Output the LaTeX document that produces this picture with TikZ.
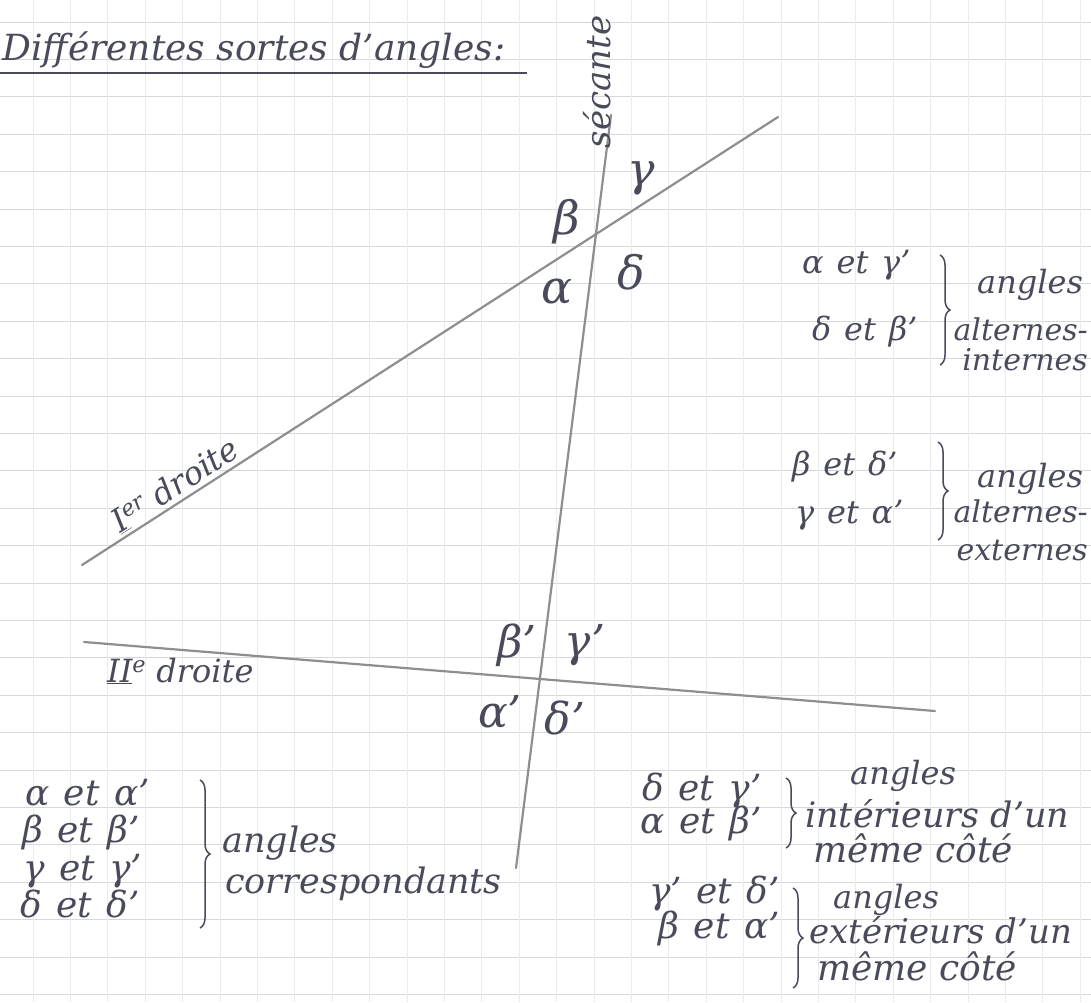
\documentclass[tikz,border=0pt]{standalone}
\usepackage{fontspec}
\setmainfont{DejaVu Serif}
\usetikzlibrary{decorations.pathreplacing}
\definecolor{ink}{HTML}{4A4B5A}
\definecolor{pencil}{HTML}{8E8E8E}
\definecolor{rule}{HTML}{D4D8DD}
\definecolor{ruledim}{HTML}{E9EBED}
\newcommand{\pairet}[2]{#1\hspace{.4em}et\hspace{.4em}#2}
\tikzset{
  hand/.style={font={\fontsize{#1}{#1}\selectfont\itshape},text=ink,inner sep=0pt},
  hand/.default=32,
  greek/.style={hand=46},
  pencilline/.style={pencil,line width=2.2pt,line cap=round},
  bracket/.style={ink,line width=1.5pt,decorate,decoration={brace,amplitude=10pt}},
  gridh/.style={rule,line width=1pt},
  gridv/.style={ruledim,line width=0.8pt}
}

\begin{document}
\begin{tikzpicture}[x=1pt,y=-1pt]
\fill[white] (0,0) rectangle (1091,1002);
\useasboundingbox (0,0) rectangle (1091,1002);
% squared paper
\foreach \k in {0,...,26} \draw[gridh] (0,22+37.4*\k) -- (1091,22+37.4*\k);
\foreach \k in {0,...,28} \draw[gridv] (33+37.4*\k,0) -- (33+37.4*\k,1002);

% title
\node[hand=36,anchor=base west] (title) at (2,60) {Différentes sortes d'angles:};
\coordinate (ul1) at (0,73);
\coordinate (ul2) at (527,73);
\draw[ink,line width=1.6pt] (ul1) -- (ul2);

% the two lines and the secant
\coordinate (s1) at (611,115);
\coordinate (s2) at (516,868);
\coordinate (da1) at (82,565);
\coordinate (da2) at (778,117);
\coordinate (db1) at (84,642);
\coordinate (db2) at (935,711);
\draw[pencilline] (s1) -- (s2);
\draw[pencilline] (da1) -- (da2);
\draw[pencilline] (db1) -- (db2);
\node[hand=34,rotate=90] (sec) at (597,82) {sécante};
\node[hand=32,anchor=base,rotate=32.8] (dra) at (181,494) {\underline{I}\textsuperscript{er} droite};
\node[hand=32,anchor=base west] (drb) at (107,682) {\underline{II}\textsuperscript{e} droite};

% angles at the crossings
\node[greek] (beta) at (567,222) {β};
\node[greek] (gamma) at (641,178) {γ};
\node[greek] (alpha) at (557,292) {α};
\node[greek] (delta) at (631,272) {δ};
\node[hand=44] (betap) at (517,645) {β'};
\node[hand=44] (gammap) at (585,645) {γ'};
\node[hand=44] (alphap) at (500,712) {α'};
\node[hand=44] (deltap) at (565,718) {δ'};

% alternes-internes
\node[hand,anchor=base west] (ai1) at (802,273) {\pairet{α}{γ'}};
\node[hand,anchor=base west] (ai2) at (812,340) {\pairet{δ}{β'}};
\coordinate (bi1) at (940,255);
\coordinate (bi2) at (940,365);
\draw[bracket] (bi1) -- (bi2);
\node[hand,anchor=base west] (aiw1) at (977,293) {angles};
\node[hand=30,anchor=base east] (aiw2) at (1088,340) {alternes-};
\node[hand=30,anchor=base east] (aiw3) at (1088,370) {internes};

% alternes-externes
\node[hand,anchor=base west] (ae1) at (792,475) {\pairet{β}{δ'}};
\node[hand,anchor=base west] (ae2) at (795,523) {\pairet{γ}{α'}};
\coordinate (be1) at (938,442);
\coordinate (be2) at (938,540);
\draw[bracket] (be1) -- (be2);
\node[hand,anchor=base west] (aew1) at (977,487) {angles};
\node[hand=30,anchor=base east] (aew2) at (1088,522) {alternes-};
\node[hand=30,anchor=base east] (aew3) at (1088,560) {externes};

% correspondants
\node[hand=36,anchor=base west] (co1) at (25,805) {\pairet{α}{α'}};
\node[hand=36,anchor=base west] (co2) at (22,842) {\pairet{β}{β'}};
\node[hand=36,anchor=base west] (co3) at (23,880) {\pairet{γ}{γ'}};
\node[hand=36,anchor=base west] (co4) at (20,917) {\pairet{δ}{δ'}};
\coordinate (bc1) at (200,780);
\coordinate (bc2) at (200,928);
\draw[bracket] (bc1) -- (bc2);
\node[hand=35,anchor=base west] (cow1) at (222,852) {angles};
\node[hand=35,anchor=base west] (cow2) at (225,893) {correspondants};

% interieurs d'un meme cote
\node[hand=36,anchor=base east] (in1) at (762,800) {\pairet{δ}{γ'}};
\node[hand=36,anchor=base east] (in2) at (762,833) {\pairet{α}{β'}};
\coordinate (bn1) at (786,778);
\coordinate (bn2) at (786,848);
\draw[bracket] (bn1) -- (bn2);
\node[hand,anchor=base west] (inw1) at (850,784) {angles};
\node[hand=35,anchor=base west] (inw2) at (805,827) {intérieurs d'un};
\node[hand=36,anchor=base west] (inw3) at (813,862) {même côté};

% exterieurs d'un meme cote
\node[hand=36,anchor=base east] (ex1) at (780,903) {\pairet{γ'}{δ'}};
\node[hand=36,anchor=base east] (ex2) at (780,938) {\pairet{β}{α'}};
\coordinate (bx1) at (793,888);
\coordinate (bx2) at (793,988);
\draw[bracket] (bx1) -- (bx2);
\node[hand,anchor=base west] (exw1) at (833,908) {angles};
\node[hand=34,anchor=base west] (exw2) at (809,943) {extérieurs d'un};
\node[hand=36,anchor=base west] (exw3) at (817,980) {même côté};
\end{tikzpicture}
\end{document}
